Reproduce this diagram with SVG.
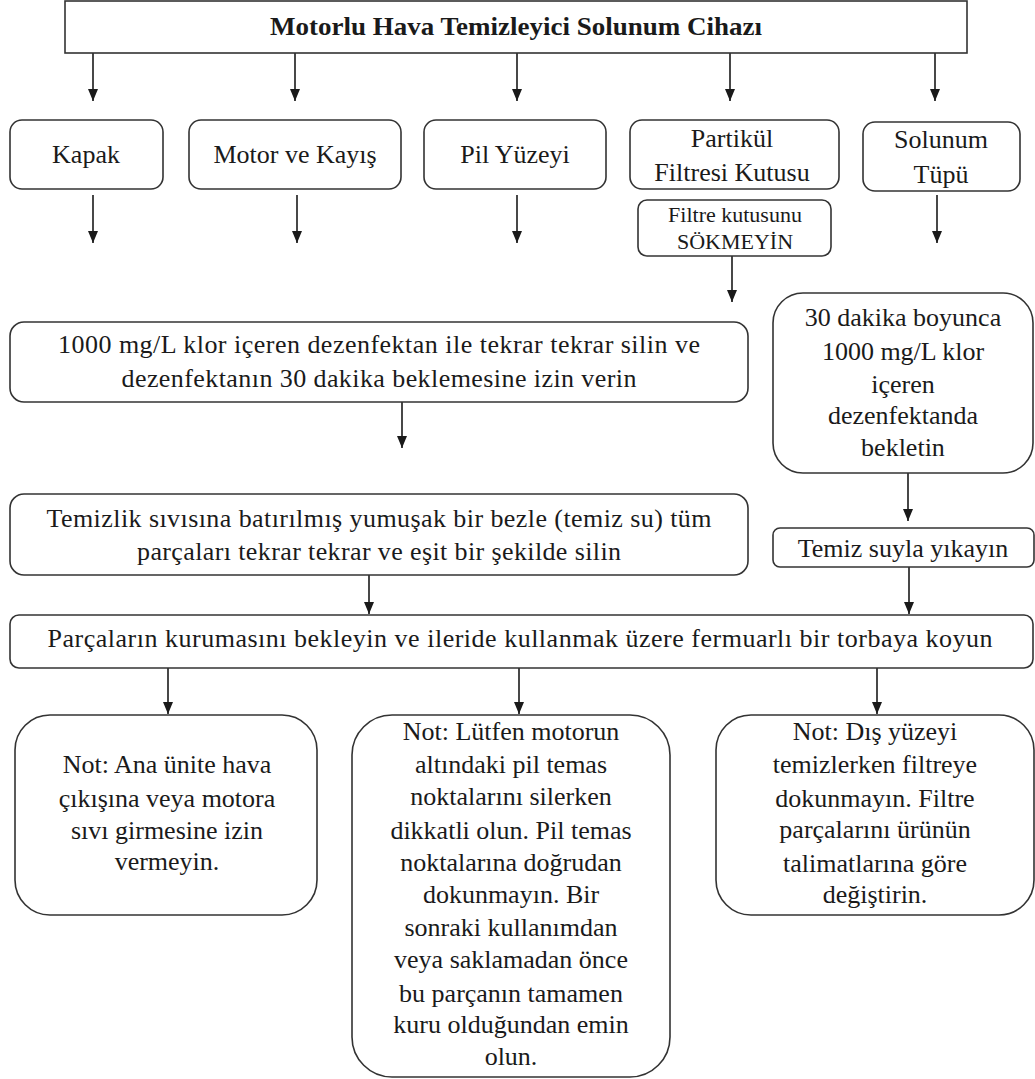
<svg xmlns="http://www.w3.org/2000/svg" width="1035" height="1079" viewBox="0 0 1035 1079">
<style>
.box{fill:#fff;stroke:#333;stroke-width:1.6}
.t{font-family:"Liberation Serif","Times New Roman",serif;font-size:26px;fill:#1a1a1a;text-anchor:middle}
.s{font-size:22px}
.b{font-weight:bold;font-size:25px}
.c{stroke:#1a1a1a;stroke-width:1.6;fill:none;marker-end:url(#ah)}
</style>
<defs>
<marker id="ah" markerUnits="userSpaceOnUse" viewBox="0 0 12 10" refX="12" refY="5" markerWidth="12" markerHeight="10" orient="auto">
<path d="M0,0 L12,5 L0,10 z" fill="#1a1a1a"/>
</marker>
</defs>
<rect width="1035" height="1079" fill="#fff"/>
<g id="connectors">
<line class="c" x1="93" y1="53" x2="93" y2="101"/>
<line class="c" x1="295" y1="53" x2="295" y2="101"/>
<line class="c" x1="517" y1="53" x2="517" y2="101"/>
<line class="c" x1="730" y1="53" x2="730" y2="101"/>
<line class="c" x1="935" y1="53" x2="935" y2="101"/>
<line class="c" x1="93" y1="195" x2="93" y2="243"/>
<line class="c" x1="297" y1="195" x2="297" y2="243"/>
<line class="c" x1="517" y1="195" x2="517" y2="243"/>
<line class="c" x1="937" y1="195" x2="937" y2="243"/>
<line class="c" x1="732" y1="256" x2="732" y2="302"/>
<line class="c" x1="402" y1="402" x2="402" y2="448"/>
<line class="c" x1="908" y1="473" x2="908" y2="521"/>
<line class="c" x1="369" y1="575" x2="369" y2="614"/>
<line class="c" x1="909" y1="567" x2="909" y2="614"/>
<line class="c" x1="168" y1="668" x2="168" y2="714"/>
<line class="c" x1="519" y1="668" x2="519" y2="714"/>
<line class="c" x1="877" y1="668" x2="877" y2="714"/>
</g>
<g id="title">
<rect class="box" x="65" y="1" width="902" height="52"/>
<text class="t b" x="516" y="35" textLength="492" lengthAdjust="spacingAndGlyphs">Motorlu Hava Temizleyici Solunum Cihazı</text>
</g>
<g id="kapak">
<rect class="box" x="10" y="120" width="153" height="69" rx="12"/>
<text class="t" x="86" y="163">Kapak</text>
</g>
<g id="motor">
<rect class="box" x="189" y="120" width="212" height="69" rx="12"/>
<text class="t" x="295" y="163">Motor ve Kayış</text>
</g>
<g id="pil">
<rect class="box" x="424" y="120" width="182" height="69" rx="12"/>
<text class="t" x="515" y="163">Pil Yüzeyi</text>
</g>
<g id="partikul">
<rect class="box" x="630" y="120" width="209" height="69" rx="12"/>
<text class="t" x="732" y="147">Partikül</text>
<text class="t" x="732" y="181">Filtresi Kutusu</text>
</g>
<g id="solunum">
<rect class="box" x="863" y="122" width="157" height="69" rx="12"/>
<text class="t" x="941" y="148">Solunum</text>
<text class="t" x="941" y="183">Tüpü</text>
</g>
<g id="sokmeyin">
<rect class="box" x="638" y="200" width="193" height="56" rx="9"/>
<text class="t s" x="735" y="222">Filtre kutusunu</text>
<text class="t s" x="735" y="249">SÖKMEYİN</text>
</g>
<g id="dezenfektan">
<rect class="box" x="10" y="322" width="738" height="80" rx="14"/>
<text class="t" x="379" y="353" textLength="642" lengthAdjust="spacing">1000 mg/L klor içeren dezenfektan ile tekrar tekrar silin ve</text>
<text class="t" x="379" y="387" textLength="515" lengthAdjust="spacing">dezenfektanın 30 dakika beklemesine izin verin</text>
</g>
<g id="bekletin">
<rect class="box" x="773" y="293" width="260" height="180" rx="30"/>
<text class="t" x="903" y="326">30 dakika boyunca</text>
<text class="t" x="903" y="360">1000 mg/L klor</text>
<text class="t" x="903" y="393">içeren</text>
<text class="t" x="903" y="424">dezenfektanda</text>
<text class="t" x="903" y="456">bekletin</text>
</g>
<g id="temizlik">
<rect class="box" x="10" y="494" width="738" height="81" rx="14"/>
<text class="t" x="379" y="527" textLength="665" lengthAdjust="spacing">Temizlik sıvısına batırılmış yumuşak bir bezle (temiz su) tüm</text>
<text class="t" x="379" y="560" textLength="484" lengthAdjust="spacing">parçaları tekrar tekrar ve eşit bir şekilde silin</text>
</g>
<g id="yikayin">
<rect class="box" x="773" y="528" width="261" height="39" rx="7"/>
<text class="t" x="903" y="557">Temiz suyla yıkayın</text>
</g>
<g id="kurutma">
<rect class="box" x="10" y="615" width="1023" height="53" rx="9"/>
<text class="t" x="520" y="647" textLength="945" lengthAdjust="spacing">Parçaların kurumasını bekleyin ve ileride kullanmak üzere fermuarlı bir torbaya koyun</text>
</g>
<g id="not1">
<rect class="box" x="15" y="715" width="302" height="200" rx="35"/>
<text class="t" x="167" y="773">Not: Ana ünite hava</text>
<text class="t" x="167" y="807">çıkışına veya motora</text>
<text class="t" x="167" y="839">sıvı girmesine izin</text>
<text class="t" x="167" y="870">vermeyin.</text>
</g>
<g id="not2">
<rect class="box" x="352" y="715" width="318" height="362" rx="40"/>
<text class="t" x="511" y="740">Not: Lütfen motorun</text>
<text class="t" x="511" y="773">altındaki pil temas</text>
<text class="t" x="511" y="805">noktalarını silerken</text>
<text class="t" x="511" y="839">dikkatli olun. Pil temas</text>
<text class="t" x="511" y="871">noktalarına doğrudan</text>
<text class="t" x="511" y="903">dokunmayın. Bir</text>
<text class="t" x="511" y="936">sonraki kullanımdan</text>
<text class="t" x="511" y="968">veya saklamadan önce</text>
<text class="t" x="511" y="1002">bu parçanın tamamen</text>
<text class="t" x="511" y="1033">kuru olduğundan emin</text>
<text class="t" x="511" y="1065">olun.</text>
</g>
<g id="not3">
<rect class="box" x="716" y="715" width="318" height="200" rx="35"/>
<text class="t" x="875" y="740">Not: Dış yüzeyi</text>
<text class="t" x="875" y="773">temizlerken filtreye</text>
<text class="t" x="875" y="807">dokunmayın. Filtre</text>
<text class="t" x="875" y="838">parçalarını ürünün</text>
<text class="t" x="875" y="872">talimatlarına göre</text>
<text class="t" x="875" y="903">değiştirin.</text>
</g>
</svg>
